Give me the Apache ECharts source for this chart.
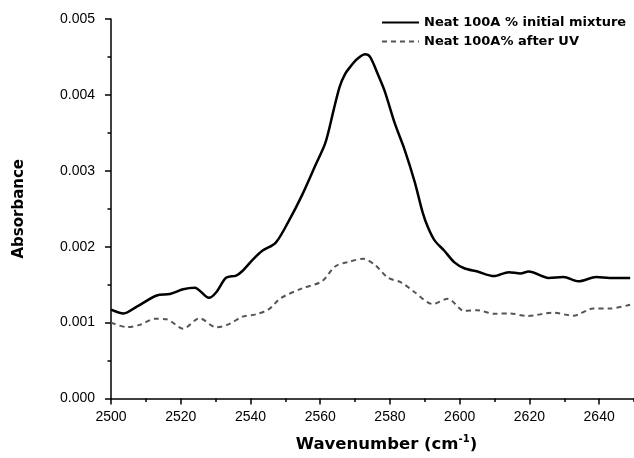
<!DOCTYPE html>
<html>
<head>
<meta charset="utf-8">
<script src="https://cdn.jsdelivr.net/npm/echarts@6/dist/echarts.min.js"></script>
<style>
  html, body { margin: 0; padding: 0; background: #fff; }
  #chart { width: 634px; height: 458px; }
</style>
</head>
<body>
<div id="chart"></div>
<script>
// FTIR absorbance spectra, 2500–2650 cm-1
const seriesNames = ['Neat 100A % initial mixture', 'Neat 100A% after UV'];

const initialWavenumber = [2500.0, 2503.6, 2507.4, 2513.1, 2516.9, 2520.7, 2524.0, 2528.1, 2530.2, 2533.0,
  2535.9, 2537.7, 2540.6, 2543.4, 2547.2, 2551.0, 2554.8, 2558.6, 2561.5, 2563.9,
  2565.6, 2567.2, 2568.8, 2570.5, 2572.9, 2574.3, 2576.6, 2578.5, 2581.4, 2584.2,
  2587.1, 2589.4, 2590.9, 2592.8, 2595.6, 2598.5, 2601.3, 2605.1, 2609.8, 2614.1,
  2617.4, 2619.8, 2625.5, 2629.8, 2634.0, 2639.2, 2643.0, 2648.9];
const initialAbsorbance = [0.00117, 0.00112, 0.00121, 0.001357, 0.001377, 0.00144, 0.00146, 0.001326, 0.0014, 0.00159,
  0.00162, 0.00168, 0.001827, 0.001947, 0.00205, 0.00234, 0.00268, 0.00307, 0.00337, 0.00381,
  0.00411, 0.00428, 0.00438, 0.00447, 0.004535, 0.0045, 0.004266, 0.00405, 0.003624, 0.00328,
  0.002854, 0.002448, 0.002255, 0.002083, 0.001947, 0.001793, 0.001716, 0.001673, 0.001613, 0.001665,
  0.001647, 0.001673, 0.001588, 0.0016, 0.001544, 0.0016, 0.001588, 0.001588];

const afterUvWavenumber = [2500.0, 2504.6, 2508.3, 2512.6, 2515.9, 2520.7, 2525.4, 2530.2, 2533.9, 2537.7,
  2541.5, 2545.3, 2548.6, 2554.8, 2560.5, 2564.3, 2568.1, 2572.4, 2575.7, 2579.5,
  2583.3, 2587.1, 2592.3, 2596.6, 2601.3, 2605.1, 2609.8, 2614.6, 2619.3, 2626.9,
  2632.6, 2638.3, 2643.0, 2648.9];
const afterUvAbsorbance = [0.001, 0.00094, 0.00097, 0.00105, 0.001044, 0.00092, 0.001057, 0.000937, 0.00098, 0.001078,
  0.001108, 0.001177, 0.00132, 0.00145, 0.001544, 0.00174, 0.0018, 0.00184, 0.00176, 0.00159,
  0.001528, 0.0014, 0.001245, 0.001313, 0.001155, 0.001164, 0.001117, 0.00112, 0.001087, 0.00113,
  0.00109, 0.001185, 0.001185, 0.001236];

const pair = (xs, ys) => xs.map((x, i) => [x, ys[i]]);

const labelFont = '"Liberation Sans", Arial, sans-serif';
const boldFont = '"DejaVu Sans", Verdana, sans-serif';

const chart = echarts.init(document.getElementById('chart'), null, { renderer: 'canvas' });

const axisLine = { show: true, lineStyle: { color: '#000', width: 1.5 } };

chart.setOption({
  animation: false,
  backgroundColor: '#fff',
  grid: { left: 111, top: 19, right: -4, bottom: 49 },
  legend: {
    orient: 'vertical',
    left: 376,
    top: 11,
    itemWidth: 37,
    itemHeight: 14,
    itemGap: 6,
    data: seriesNames,
    itemStyle: { opacity: 0 },
    textStyle: { fontFamily: boldFont, fontWeight: 'bold', fontSize: 13, color: '#000' }
  },
  xAxis: [
    {
      type: 'value',
      min: 2500,
      max: 2650,
      interval: 20,
      position: 'bottom',
      axisLine: axisLine,
      axisTick: { show: true, inside: false, length: 6, lineStyle: { color: '#000', width: 1.5 } },
      splitLine: { show: false },
      axisLabel: {
        showMaxLabel: false,
        margin: 12,
        fontFamily: labelFont,
        fontSize: 14,
        color: '#000',
        formatter: v => String(v)
      },
      name: 'Wavenumber (cm{sup|-1})',
      nameLocation: 'middle',
      nameGap: 36,
      nameTextStyle: {
        fontFamily: boldFont,
        fontWeight: 'bold',
        fontSize: 16.5,
        color: '#000',
        padding: [0, 0, 0, 28],
        rich: {
          sup: {
            fontFamily: boldFont,
            fontWeight: 'bold',
            fontSize: 10,
            color: '#000',
            verticalAlign: 'top',
            padding: [0, 0, 10, 0]
          }
        }
      }
    },
    {
      // minor ticks every 10 cm-1
      type: 'value',
      min: 2500,
      max: 2650,
      interval: 10,
      position: 'bottom',
      axisLine: { show: false },
      axisTick: { show: true, inside: false, length: 3.5, lineStyle: { color: '#000', width: 1.5 } },
      splitLine: { show: false },
      axisLabel: { show: false }
    }
  ],
  yAxis: {
    type: 'value',
    min: 0,
    max: 0.005,
    interval: 0.001,
    axisLine: axisLine,
    axisTick: { show: true, inside: false, length: 6, lineStyle: { color: '#000', width: 1.5 } },
    minorTick: { show: true, splitNumber: 2, length: 3.5, lineStyle: { color: '#000', width: 1.5 } },
    splitLine: { show: false },
    axisLabel: {
      margin: 16,
      fontFamily: labelFont,
      fontSize: 14,
      color: '#000',
      formatter: v => v.toFixed(3)
    },
    name: 'Absorbance',
    nameLocation: 'middle',
    nameGap: 84,
    nameTextStyle: { fontFamily: boldFont, fontWeight: 'bold', fontSize: 15, color: '#000' }
  },
  series: [
    {
      name: seriesNames[0],
      type: 'line',
      xAxisIndex: 0,
      data: pair(initialWavenumber, initialAbsorbance),
      smooth: 0.3,
      symbol: 'none',
      lineStyle: { color: '#000', width: 2.5 },
      itemStyle: { color: '#000' }
    },
    {
      name: seriesNames[1],
      type: 'line',
      xAxisIndex: 0,
      data: pair(afterUvWavenumber, afterUvAbsorbance),
      smooth: 0.3,
      symbol: 'none',
      lineStyle: { color: '#555', width: 2, type: [5, 4] },
      itemStyle: { color: '#555' }
    }
  ]
});
</script>
</body>
</html>
